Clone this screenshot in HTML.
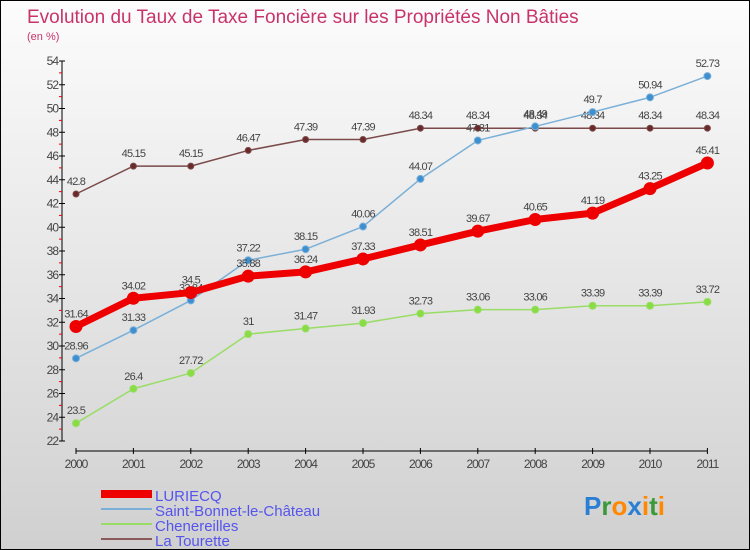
<!DOCTYPE html>
<html><head><meta charset="utf-8"><style>
body{margin:0;}
#wrap{width:750px;height:550px;position:relative;overflow:hidden;box-sizing:border-box;border:1px solid #000;background:linear-gradient(#fcfcfc,#d0d0d0);font-family:"Liberation Sans",sans-serif;}
svg{position:absolute;left:0;top:0;}
</style></head><body>
<div id="wrap">
<svg id="chart" width="750" height="550">
<text x="26" y="22" font-size="19" fill="#c8346a">Evolution du Taux de Taxe Foncière sur les Propriétés Non Bâties</text>
<text x="26" y="39" font-size="11" fill="#c8346a">(en %)</text>
<g id="axes"></g><g id="series"></g>
<g>
<rect x="100" y="489" width="51" height="8" fill="#e00"/>
<line x1="100" y1="508" x2="151" y2="508" stroke="#7ab0d8" stroke-width="2"/>
<line x1="100" y1="523" x2="151" y2="523" stroke="#99dd66" stroke-width="2"/>
<line x1="100" y1="538" x2="151" y2="538" stroke="#8b5a5a" stroke-width="2"/>
<text x="154" y="500" font-size="15" fill="#5555ee">LURIECQ</text>
<text x="154" y="515" font-size="15" fill="#5555ee">Saint-Bonnet-le-Château</text>
<text x="154" y="530" font-size="15" fill="#5555ee">Chenereilles</text>
<text x="154" y="545" font-size="15" fill="#5555ee">La Tourette</text>
</g>
<g font-size="26" font-weight="bold">
<text x="583" y="514"><tspan fill="#2a7fd4">P</tspan><tspan fill="#3a9a3a">r</tspan><tspan fill="#ff8800">o</tspan><tspan fill="#2a7fd4">x</tspan><tspan fill="#ff8800">i</tspan><tspan fill="#3a9a3a">t</tspan><tspan fill="#ff8800">i</tspan></text>
</g>
</svg></div>
<script>
const years=["2000","2001","2002","2003","2004","2005","2006","2007","2008","2009","2010","2011"];
const yTicks=[22,24,26,28,30,32,34,36,38,40,42,44,46,48,50,52,54];
const luriecq=[31.64,34.02,34.5,35.88,36.24,37.33,38.51,39.67,40.65,41.19,43.25,45.41];
const saintBonnet=[28.96,31.33,33.84,37.22,38.15,40.06,44.07,47.31,48.49,49.7,50.94,52.73];
const chenereilles=[23.5,26.4,27.72,31,31.47,31.93,32.73,33.06,33.06,33.39,33.39,33.72];
const laTourette=[42.8,45.15,45.15,46.47,47.39,47.39,48.34,48.34,48.34,48.34,48.34,48.34];
const NS="http://www.w3.org/2000/svg";
const xS=i=>75+i*57.4;
const yS=v=>440-(v-22)*380/32;
function mk(t,a,p){const e=document.createElementNS(NS,t);for(const k in a)e.setAttribute(k,a[k]);p.appendChild(e);return e;}
const ax=document.getElementById('axes');
let yl=mk('line',{x1:61,y1:yS(54),x2:61,y2:yS(22),stroke:'#000','stroke-width':1},ax);


yTicks.forEach(v=>{
 let l=mk('line',{x1:58,y1:yS(v),x2:64,y2:yS(v),stroke:'#000'},ax);
 
 
 if(v<54){let m=mk('line',{x1:58,y1:yS(v+1),x2:61,y2:yS(v+1),stroke:'#e00'},ax);
 
 }
 let t=mk('text',{x:57,y:yS(v)+4,'font-size':12,fill:'#444','text-anchor':'end','letter-spacing':'-1'},ax);t.textContent=v;
 
 
});
let xl=mk('line',{x1:xS(0),y1:450,x2:xS(11),y2:450,stroke:'#000'},ax);


years.forEach((y,i)=>{
 let l=mk('line',{x1:xS(i),y1:447,x2:xS(i),y2:453,stroke:'#000'},ax);
 
 
 let t=mk('text',{x:xS(i),y:467,'font-size':12,fill:'#444','text-anchor':'middle','letter-spacing':'-1'},ax);t.textContent=y;
 
 
});
const sg=document.getElementById('series');
function draw(vals,color,w,r,name,dot){
 const g=mk('g',{},sg);
 
 
 let p=mk('polyline',{points:vals.map((v,i)=>xS(i)+','+yS(v)).join(' '),fill:'none',stroke:color,'stroke-width':w,'stroke-linejoin':'round'},g);
 
 
 vals.forEach((v,i)=>{
  let c=mk('circle',{cx:xS(i),cy:yS(v),r:r,fill:dot,stroke:color,'stroke-width':1},g);
  
  
  let t=mk('text',{x:xS(i),y:yS(v)-9,'font-size':11,fill:'#444','text-anchor':'middle','letter-spacing':'-0.8'},g);t.textContent=v;
  
  
 });
}
draw(laTourette,'#7a4a4a',1.5,3,'la-tourette','#6b2a2a');
draw(chenereilles,'#99dd66',1.5,3.5,'chenereilles','#88dd44');
draw(saintBonnet,'#7ab0d8',1.5,3.5,'saint-bonnet','#3d8fd0');
draw(luriecq,'#ee0000',7,6,'luriecq','#ee0000');
</script>
</body></html>
